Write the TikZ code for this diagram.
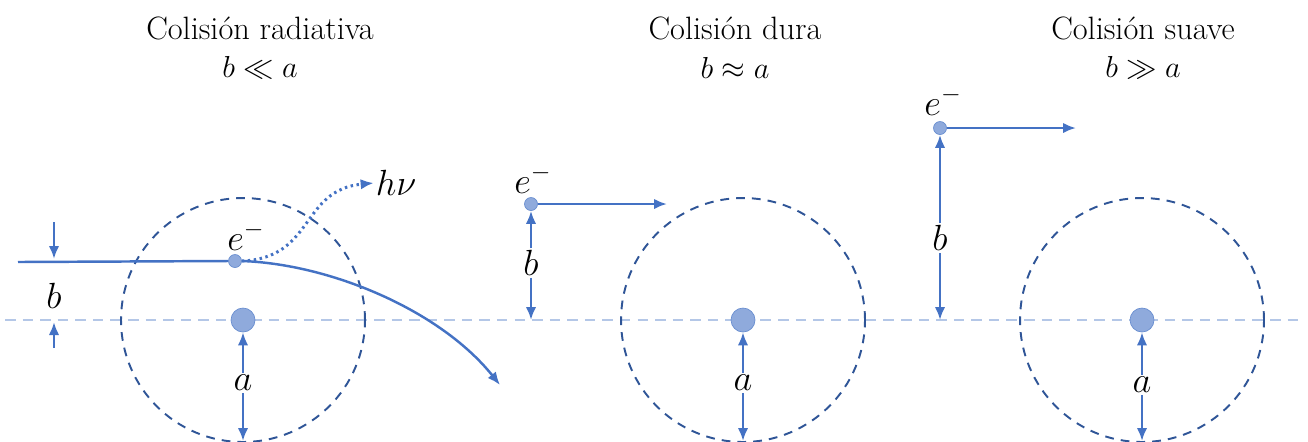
\documentclass[tikz,border=0pt]{standalone}
\usepackage{amssymb,amsmath}
\usepackage{tikz}
\usetikzlibrary{positioning}
\usetikzlibrary{arrows.meta}
\definecolor{azul}{HTML}{4472C4}
\definecolor{azulclaro}{HTML}{8FAADC}
\definecolor{azuleje}{HTML}{B4C7E7}
\definecolor{azuloscuro}{HTML}{2F5597}

\begin{document}
\begin{tikzpicture}[
    x=0.02cm, y=-0.02cm,
    nucleo/.style={circle, fill=azulclaro, draw=azul!80, thin, minimum size=0.48cm, inner sep=0pt},
    electron/.style={circle, fill=azulclaro, draw=azul!80, thin, minimum size=0.26cm, inner sep=0pt},
    etiqueta/.style={font=\fontsize{21}{24}\selectfont, inner sep=1pt},
    titulo/.style={font=\fontsize{18.4}{21}\selectfont, inner sep=0pt},
    flecha/.style={draw=azul, line width=1.4pt, -{Latex[length=2.6mm,width=2.1mm]}},
    orbita/.style={draw=azuloscuro, line width=1.1pt, dash pattern=on 5pt off 4pt},
    eje/.style={draw=azuleje, line width=1.1pt, dash pattern=on 6pt off 4pt}
]
\useasboundingbox (0,0) rectangle (1308,441);
% Eje y orbitas
\draw[eje] (5,320) -- (1305,320);
\foreach \cx in {243,743,1142}
    \draw[orbita] (\cx,320) circle[radius=2.44cm];
% Nucleos
\node[nucleo] (nA) at (243,320) {};
\node[nucleo] (nB) at (743,320) {};
\node[nucleo] (nC) at (1142,320) {};
% Titulos
\node[titulo] (tA) at (260,28) {Colisión radiativa};
\node[titulo] (cA) at (260,68) {$b \ll a$};
\node[titulo] (tB) at (735,28) {Colisión dura};
\node[titulo] (cB) at (735,68) {$b \approx a$};
\node[titulo] (tC) at (1143,28) {Colisión suave};
\node[titulo] (cC) at (1143,68) {$b \gg a$};
% Etiquetas a
\node[etiqueta] (aA) at (243,383) {$a$};
\node[etiqueta] (aB) at (743,383) {$a$};
\node[etiqueta] (aC) at (1142,385) {$a$};
\coordinate (fA) at (243,441);
\coordinate (fB) at (743,441);
\coordinate (fC) at (1142,441);
\draw[flecha] (aA) -- (nA);
\draw[flecha] (aA) -- (fA);
\draw[flecha] (aB) -- (nB);
\draw[flecha] (aB) -- (fB);
\draw[flecha] (aC) -- (nC);
\draw[flecha] (aC) -- (fC);
% Colision radiativa
\node[electron] (eA) at (235,261) {};
\node[etiqueta] (lA) at (246,236) {$e^-$};
\node[etiqueta] (hnu) at (396,183) {$h\nu$};
\coordinate (iA) at (18,262);
\coordinate (sA) at (500,385);
\draw[azul, line width=1.4pt] (iA) -- (eA.west);
\draw[flecha] (eA.east) .. controls (330,264) and (440,310) .. (sA);
\draw[flecha, dotted, line width=1.7pt] (eA.east) .. controls (315,258) and (300,190) .. (hnu.west);
\node[etiqueta] (bA) at (54,296) {$b$};
\coordinate (bA1) at (54,222);
\coordinate (bA2) at (54,259);
\coordinate (bA3) at (54,348);
\coordinate (bA4) at (54,322);
\draw[flecha] (bA1) -- (bA2);
\draw[flecha] (bA3) -- (bA4);
% Colision dura
\node[electron] (eB) at (531,204) {};
\node[etiqueta] (lB) at (533,179) {$e^-$};
\coordinate (sB) at (667,204);
\draw[flecha] (eB.east) -- (sB);
\node[etiqueta] (bB) at (531,263) {$b$};
\coordinate (pB) at (531,320);
\draw[flecha] (bB) -- (eB);
\draw[flecha] (bB) -- (pB);
% Colision suave
\node[electron] (eC) at (940,128) {};
\node[etiqueta] (lC) at (943,101) {$e^-$};
\coordinate (sC) at (1076,128);
\draw[flecha] (eC.east) -- (sC);
\node[etiqueta] (bC) at (940,238) {$b$};
\coordinate (pC) at (940,320);
\draw[flecha] (bC) -- (eC);
\draw[flecha] (bC) -- (pC);
\end{tikzpicture}
\end{document}
